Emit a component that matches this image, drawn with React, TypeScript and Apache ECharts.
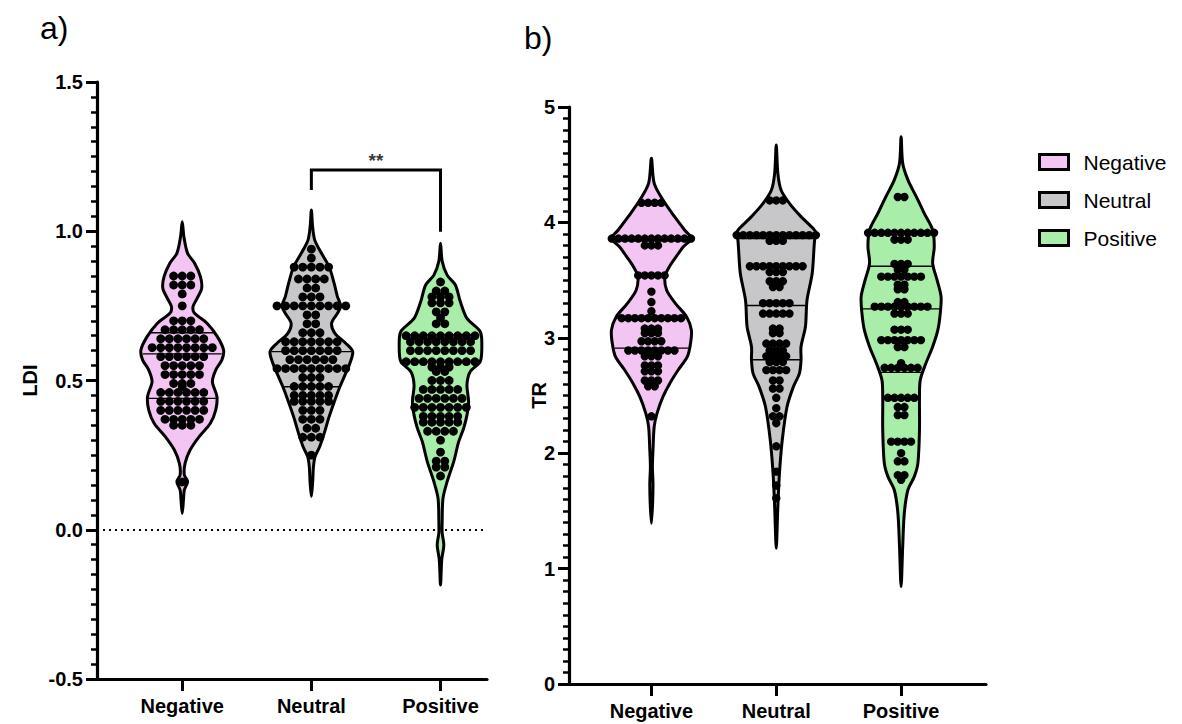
import React, { useEffect, useRef } from "react";
import * as echarts from "echarts";

// ---- categories, colours, axis ranges ----
const groups = ["Negative", "Neutral", "Positive"];
const groupColors = ["#F3C5F3", "#C7C7C9", "#A8EDA8"];
const categoryPositions = [1, 2, 3];

const ldiRange = { min: -0.5, max: 1.5, step: 0.5 };
const trRange = { min: 0, max: 5, step: 1 };

// ---- individual observations (LDI) ----
const ldiNegative = [
  0.85, 0.85, 0.85, 0.82, 0.82, 0.82, 0.79, 0.75, 0.7, 0.7, 0.7,
  0.67, 0.67, 0.67, 0.67, 0.67, 0.64, 0.64, 0.64, 0.64, 0.64, 0.64,
  0.61, 0.61, 0.61, 0.61, 0.61, 0.61, 0.61, 0.61, 0.58, 0.58, 0.58, 0.58, 0.58, 0.58,
  0.55, 0.55, 0.55, 0.55, 0.55, 0.52, 0.52, 0.52, 0.52, 0.52, 0.49, 0.49, 0.49, 0.48,
  0.46, 0.46, 0.46, 0.46, 0.46, 0.46, 0.43, 0.43, 0.43, 0.43, 0.43, 0.43,
  0.4, 0.4, 0.4, 0.4, 0.4, 0.4, 0.37, 0.37, 0.37, 0.37, 0.37, 0.35, 0.35, 0.35, 0.16,
];
const ldiNeutral = [
  0.94, 0.91, 0.88, 0.88, 0.88, 0.88, 0.88, 0.84, 0.84, 0.84, 0.84, 0.81, 0.81,
  0.78, 0.78, 0.78, 0.75, 0.75, 0.75, 0.75, 0.75, 0.75, 0.75, 0.75, 0.75,
  0.72, 0.72, 0.69, 0.69, 0.66, 0.66, 0.66, 0.63, 0.63, 0.63, 0.63, 0.63, 0.63, 0.63,
  0.6, 0.6, 0.6, 0.6, 0.6, 0.6, 0.6, 0.57, 0.57, 0.57, 0.57, 0.57, 0.57,
  0.54, 0.54, 0.54, 0.54, 0.54, 0.54, 0.54, 0.54, 0.54, 0.51, 0.51, 0.51,
  0.48, 0.48, 0.48, 0.48, 0.48, 0.45, 0.45, 0.45, 0.45, 0.45, 0.43, 0.43, 0.43, 0.43, 0.43,
  0.4, 0.4, 0.4, 0.37, 0.37, 0.37, 0.34, 0.34, 0.31, 0.31, 0.31, 0.25,
];
const ldiPositive = [
  0.83, 0.8, 0.8, 0.78, 0.78, 0.78, 0.76, 0.76, 0.76, 0.73, 0.73, 0.71, 0.69, 0.69,
  0.65, 0.65, 0.65, 0.65, 0.65, 0.65, 0.65, 0.65, 0.65, 0.63, 0.63, 0.63, 0.63, 0.63, 0.63, 0.63, 0.63,
  0.6, 0.6, 0.6, 0.6, 0.6, 0.6, 0.6, 0.6, 0.563, 0.563, 0.563, 0.563, 0.563, 0.563, 0.563, 0.563, 0.563,
  0.545, 0.545, 0.545, 0.53, 0.53, 0.5, 0.5, 0.5, 0.47, 0.47, 0.47, 0.47, 0.47,
  0.44, 0.44, 0.44, 0.44, 0.44, 0.44, 0.41, 0.41, 0.41, 0.41, 0.41, 0.41, 0.41,
  0.38, 0.38, 0.38, 0.38, 0.38, 0.36, 0.36, 0.36, 0.36, 0.36, 0.33, 0.33, 0.33, 0.33,
  0.3, 0.26, 0.23, 0.23, 0.21, 0.21, 0.18,
];

// ---- individual observations (TR) ----
const trNegative = [
  4.17, 4.17, 4.17, 4.17,
  3.86, 3.86, 3.86, 3.86, 3.86, 3.86, 3.86, 3.86, 3.86, 3.86, 3.86, 3.86, 3.86,
  3.8, 3.8, 3.8, 3.54, 3.54, 3.54, 3.54, 3.54, 3.4, 3.31, 3.23,
  3.17, 3.17, 3.17, 3.17, 3.17, 3.17, 3.17, 3.17, 3.17, 3.17,
  3.08, 3.08, 3.08, 3.04, 3.04, 3.04, 2.97, 2.97, 2.97, 2.97,
  2.89, 2.89, 2.89, 2.89, 2.89, 2.89, 2.89, 2.89, 2.84, 2.84, 2.84,
  2.76, 2.76, 2.76, 2.71, 2.71, 2.71, 2.63, 2.63, 2.63, 2.58, 2.58, 2.32,
];
const trNeutral = [
  4.19, 4.19, 4.19,
  3.89, 3.89, 3.89, 3.89, 3.89, 3.89, 3.89, 3.89, 3.89, 3.89, 3.89, 3.89, 3.89,
  3.84, 3.84, 3.84, 3.62, 3.62, 3.62, 3.62, 3.62, 3.62, 3.62, 3.62, 3.62,
  3.57, 3.57, 3.57, 3.49, 3.49, 3.49, 3.44, 3.44,
  3.3, 3.3, 3.3, 3.3, 3.3, 3.21, 3.21, 3.21, 3.21, 3.21, 3.08, 3.08, 3.04, 3.04,
  2.95, 2.95, 2.95, 2.95, 2.89, 2.89, 2.89, 2.84, 2.84, 2.84, 2.84, 2.79, 2.79, 2.79,
  2.72, 2.72, 2.72, 2.72, 2.63, 2.63, 2.56, 2.56, 2.48, 2.39, 2.32, 2.32, 2.26,
  2.06, 1.84, 1.72, 1.61,
];
const trPositive = [
  4.22, 4.22,
  3.91, 3.91, 3.91, 3.91, 3.91, 3.91, 3.91, 3.91, 3.91, 3.91, 3.91, 3.85, 3.85, 3.85,
  3.64, 3.64, 3.64, 3.59, 3.59, 3.53, 3.53, 3.53, 3.53, 3.53, 3.53, 3.53,
  3.46, 3.46, 3.42, 3.42, 3.31, 3.31,
  3.27, 3.27, 3.27, 3.27, 3.27, 3.27, 3.27, 3.27, 3.27, 3.21, 3.21, 3.21,
  3.07, 3.07, 3.07, 2.98, 2.98, 2.98, 2.98, 2.98, 2.98, 2.98, 2.92, 2.92,
  2.78, 2.74, 2.74, 2.74, 2.74, 2.74, 2.74, 2.48, 2.48, 2.48, 2.48, 2.48,
  2.4, 2.4, 2.33, 2.33, 2.1, 2.1, 2.1, 2.1, 2.0, 1.93, 1.93, 1.81, 1.81, 1.77,
];

// ---- kernel density profiles: [value, relative density] ----
const ldiNegativeDensity = [
  [1.032, 0], [0.982, 0.04], [0.926, 0.13], [0.893, 0.3], [0.848, 0.44], [0.809, 0.47],
  [0.775, 0.36], [0.747, 0.26], [0.725, 0.3], [0.692, 0.6], [0.647, 0.85], [0.602, 1.0],
  [0.569, 0.96], [0.535, 0.81], [0.496, 0.73], [0.446, 0.84], [0.401, 0.81], [0.357, 0.68],
  [0.312, 0.41], [0.267, 0.19], [0.223, 0.07], [0.184, 0.05], [0.161, 0.13], [0.133, 0.05],
  [0.1, 0.03], [0.055, 0],
];
const ldiNeutralDensity = [
  [1.071, 0], [1.015, 0.03], [0.971, 0.08], [0.937, 0.2], [0.881, 0.43], [0.826, 0.55],
  [0.781, 0.63], [0.75, 0.71], [0.725, 0.63], [0.692, 0.49], [0.658, 0.57], [0.625, 0.83],
  [0.597, 1.0], [0.557, 0.93], [0.524, 0.83], [0.479, 0.69], [0.435, 0.57], [0.379, 0.43],
  [0.323, 0.31], [0.278, 0.2], [0.245, 0.09], [0.211, 0.05], [0.156, 0.03], [0.111, 0],
];
const ldiPositiveDensity = [
  [0.96, 0], [0.9, 0.04], [0.853, 0.16], [0.82, 0.36], [0.764, 0.48], [0.708, 0.64],
  [0.664, 0.96], [0.619, 1.0], [0.563, 0.96], [0.53, 0.72], [0.485, 0.64], [0.429, 0.68],
  [0.384, 0.64], [0.34, 0.56], [0.295, 0.44], [0.228, 0.32], [0.161, 0.16], [0.105, 0.06],
  [0.027, 0.04], [-0.01, 0.04], [-0.051, 0.08], [-0.1, 0.03], [-0.185, 0],
];
const trNegativeDensity = [
  [4.555, 0], [4.338, 0.07], [4.194, 0.29], [4.049, 0.58], [3.934, 0.83], [3.861, 1.0],
  [3.789, 0.8], [3.703, 0.62], [3.616, 0.45], [3.529, 0.34], [3.414, 0.38], [3.298, 0.6],
  [3.183, 0.88], [3.067, 1.0], [2.952, 0.98], [2.836, 0.9], [2.721, 0.67], [2.605, 0.46],
  [2.49, 0.29], [2.345, 0.14], [2.23, 0.07], [2.027, 0.04], [1.883, 0.025], [1.738, 0.04],
  [1.565, 0.03], [1.392, 0],
];
const trNeutralDensity = [
  [4.671, 0], [4.425, 0.04], [4.281, 0.12], [4.165, 0.33], [4.05, 0.62], [3.949, 0.92],
  [3.905, 1.0], [3.847, 0.96], [3.559, 0.9], [3.327, 0.77], [3.096, 0.73], [2.923, 0.62],
  [2.808, 0.62], [2.692, 0.58], [2.577, 0.43], [2.403, 0.27], [2.114, 0.15], [1.825, 0.08],
  [1.537, 0.04], [1.176, 0],
];
const trPositiveDensity = [
  [4.743, 0], [4.512, 0.04], [4.368, 0.17], [4.223, 0.38], [4.079, 0.58], [3.934, 0.79],
  [3.79, 0.83], [3.646, 0.79], [3.501, 0.9], [3.357, 1.0], [3.212, 0.98], [3.068, 0.92],
  [2.923, 0.79], [2.779, 0.62], [2.635, 0.48], [2.49, 0.46], [2.201, 0.46], [1.912, 0.42],
  [1.797, 0.33], [1.681, 0.17], [1.479, 0.08], [1.19, 0.04], [0.844, 0],
];

// ---- quartiles: [Q3, median, Q1] ----
const ldiQuartiles = [
  [0.66, 0.589, 0.44],
  [0.75, 0.597, 0.479],
  [0.653, 0.563, 0.412],
];
const trQuartiles = [
  [3.84, 3.17, 2.91],
  [3.86, 3.28, 2.81],
  [3.62, 3.25, 2.7],
];

// ---- significance bracket (Neutral vs Positive, LDI) ----
const bracketX = [2, 2, 3, 3];
const bracketY = [1.138, 1.205, 1.205, 0.998];
const bracketLabel = "**";

const FONT = "'Liberation Sans', Arial, Helvetica, sans-serif";
const VIOLIN_HALF = 0.32; // half width of a violin at peak density, x units

function densityAt(profile: number[][], v: number) {
  for (let i = 0; i < profile.length - 1; i++) {
    const [v0, d0] = profile[i];
    const [v1, d1] = profile[i + 1];
    if ((v <= v0 && v >= v1) || (v >= v0 && v <= v1)) {
      const t = v1 === v0 ? 0 : (v - v0) / (v1 - v0);
      return d0 + t * (d1 - d0);
    }
  }
  return 0;
}

function violinSeries(axis: number, center: number, profile: number[][], quartiles: number[], color: string, name: string) {
  return {
    type: "custom",
    name,
    xAxisIndex: axis,
    yAxisIndex: axis,
    z: 2,
    itemStyle: { color, borderColor: "#000", borderWidth: 3 },
    data: [[center, profile[0][0]]],
    renderItem: (_params: any, api: any) => {
      const right = profile.map(([v, d]) => api.coord([center + d * VIOLIN_HALF, v]));
      const left = profile
        .slice(1, -1)
        .reverse()
        .map(([v, d]) => api.coord([center - d * VIOLIN_HALF, v]));
      const points = right.concat(left);
      const lines = quartiles.map((q) => {
        const d = densityAt(profile, q) * 0.97;
        const a = api.coord([center - d * VIOLIN_HALF, q]);
        const b = api.coord([center + d * VIOLIN_HALF, q]);
        return {
          type: "line",
          shape: { x1: a[0], y1: a[1], x2: b[0], y2: b[1] },
          style: { stroke: "#000", lineWidth: 1.3 },
        };
      });
      return {
        type: "group",
        children: [
          {
            type: "polygon",
            shape: { points, smooth: 0.3 },
            style: { fill: color, stroke: "#000", lineWidth: 3, lineJoin: "round" },
          },
          ...lines,
        ],
      };
    },
  };
}

// Rows of dots: values that land on the same pixel row are spread side by side.
function dotsSeries(axis: number, center: number, values: number[], radius: number, step: number) {
  let offsets: number[] | null = null;
  return {
    type: "custom",
    name: "dots",
    xAxisIndex: axis,
    yAxisIndex: axis,
    z: 3,
    data: values.map((v) => [center, v]),
    renderItem: (params: any, api: any) => {
      if (!offsets) {
        const py = values.map((v) => api.coord([center, v])[1]);
        const order = values.map((_, i) => i).sort((a, b) => py[a] - py[b]);
        offsets = new Array(values.length).fill(0);
        let i = 0;
        while (i < order.length) {
          let j = i;
          while (j < order.length && Math.abs(py[order[j]] - py[order[i]]) < 2) j++;
          const n = j - i;
          for (let k = 0; k < n; k++) offsets[order[i + k]] = (k - (n - 1) / 2) * step;
          i = j;
        }
      }
      const [cx, cy] = api.coord([center, values[params.dataIndex]]);
      return {
        type: "circle",
        shape: { cx: cx + offsets[params.dataIndex], cy, r: radius },
        style: { fill: "#000" },
      };
    },
  };
}

function valueXAxis(grid: number, min: number, max: number) {
  return {
    type: "value",
    gridIndex: grid,
    min,
    max,
    splitLine: { show: false },
    axisLine: { show: true, onZero: false, lineStyle: { color: "#000", width: 3.2 } },
    axisTick: { show: true, customValues: categoryPositions, length: 12, lineStyle: { color: "#000", width: 3 } },
    axisLabel: {
      customValues: categoryPositions,
      formatter: (v: number) => groups[Math.round(v) - 1] ?? "",
      margin: 17,
      color: "#000",
      fontFamily: FONT,
      fontWeight: "bold",
      fontSize: 20,
    },
  };
}

function valueYAxis(grid: number, range: { min: number; max: number; step: number }, name: string, nameGap: number, decimals: number) {
  return {
    type: "value",
    gridIndex: grid,
    min: range.min,
    max: range.max,
    interval: range.step,
    name,
    nameLocation: "middle",
    nameGap,
    nameMoveOverlap: false,
    nameTextStyle: { color: "#000", fontFamily: FONT, fontWeight: "bold", fontSize: 20 },
    splitLine: { show: false },
    axisLine: { show: true, onZero: false, lineStyle: { color: "#000", width: 3.2 } },
    axisTick: { show: true, length: 11, lineStyle: { color: "#000", width: 3 } },
    minorTick: { show: true, splitNumber: 10, length: 6, lineStyle: { color: "#000", width: 2.5 } },
    minorSplitLine: { show: false },
    axisLabel: {
      formatter: (v: number) => v.toFixed(decimals),
      margin: 14,
      color: "#000",
      fontFamily: FONT,
      fontWeight: "bold",
      fontSize: 20,
    },
  };
}

export default function App() {
  const ref = useRef<HTMLDivElement>(null);

  useEffect(() => {
    if (!ref.current) return;
    const chart = echarts.init(ref.current, undefined, { renderer: "svg" });

    const ldiData = [ldiNegative, ldiNeutral, ldiPositive];
    const ldiDensity = [ldiNegativeDensity, ldiNeutralDensity, ldiPositiveDensity];
    const trData = [trNegative, trNeutral, trPositive];
    const trDensity = [trNegativeDensity, trNeutralDensity, trPositiveDensity];

    const series: any[] = [];
    groups.forEach((g, i) => {
      series.push(violinSeries(0, categoryPositions[i], ldiDensity[i], ldiQuartiles[i], groupColors[i], g));
      series.push(dotsSeries(0, categoryPositions[i], ldiData[i], 4.4, 8.6));
      series.push(violinSeries(1, categoryPositions[i], trDensity[i], trQuartiles[i], groupColors[i], g));
      series.push(dotsSeries(1, categoryPositions[i], trData[i], 4.2, 6.6));
    });

    series.push({
      type: "line",
      name: "bracket",
      xAxisIndex: 0,
      yAxisIndex: 0,
      z: 5,
      symbol: "none",
      lineStyle: { color: "#000", width: 3, join: "miter" },
      data: bracketX.map((x, i) => [x, bracketY[i]]),
      markLine: {
        silent: true,
        symbol: ["none", "none"],
        label: { show: false },
        lineStyle: { color: "#000", width: 2, type: [2, 4] },
        data: [{ yAxis: 0 }],
        z: 1,
      },
    });
    series.push({
      type: "scatter",
      name: "significance",
      xAxisIndex: 0,
      yAxisIndex: 0,
      symbolSize: 0,
      data: [[(bracketX[1] + bracketX[2]) / 2, bracketY[1]]],
      label: {
        show: true,
        position: "top",
        distance: 0,
        formatter: bracketLabel,
        color: "#000",
        fontFamily: FONT,
        fontWeight: "bold",
        fontSize: 19,
      },
    });

    chart.setOption({
      animation: false,
      backgroundColor: "#fff",
      title: [
        { text: "a)", left: 35, top: 7, textStyle: { fontFamily: FONT, fontWeight: "normal", fontSize: 32, color: "#000" } },
        { text: "b)", left: 519, top: 17, textStyle: { fontFamily: FONT, fontWeight: "normal", fontSize: 32, color: "#000" } },
      ],
      legend: {
        data: groups,
        orient: "vertical",
        left: 1033,
        top: 146,
        icon: "rect",
        itemWidth: 29,
        itemHeight: 15,
        itemGap: 16,
        selectedMode: false,
        itemStyle: { borderColor: "#000", borderWidth: 3 },
        textStyle: { fontFamily: FONT, fontSize: 21, color: "#000", padding: [0, 0, 0, 10], lineHeight: 22 },
      },
      grid: [
        { left: 97, top: 82, width: 390, height: 597 },
        { left: 569, top: 107, width: 417, height: 577 },
      ],
      xAxis: [valueXAxis(0, 0.34, 3.36), valueXAxis(1, 0.34, 3.68)],
      yAxis: [valueYAxis(0, ldiRange, "LDI", 57, 1), valueYAxis(1, trRange, "TR", 20, 0)],
      series,
    });

    return () => chart.dispose();
  }, []);

  return (
    <div
      ref={ref}
      style={{ position: "fixed", left: 0, top: 0, width: 1182, height: 724, background: "#fff" }}
    />
  );
}
